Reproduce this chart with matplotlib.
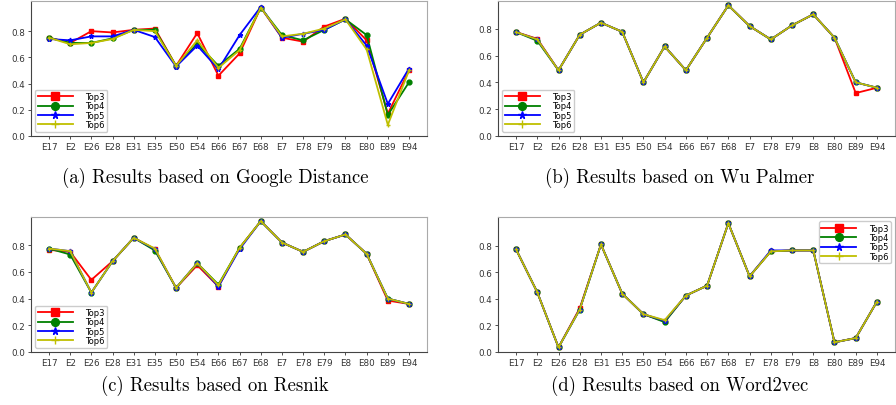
# Four panels: Top3..Top6 results per event, one panel per similarity measure
import numpy as np
import matplotlib
matplotlib.use('Agg')
import matplotlib.pyplot as plt

events = ['E17', 'E2', 'E26', 'E28', 'E31', 'E35', 'E50', 'E54', 'E66',
          'E67', 'E68', 'E7', 'E78', 'E79', 'E8', 'E80', 'E89', 'E94']
series_names = ['Top3', 'Top4', 'Top5', 'Top6']

# (a) Google Distance
google_top3 = [0.75, 0.71, 0.80, 0.79, 0.81, 0.82, 0.535, 0.785, 0.46, 0.63, 0.98, 0.75, 0.72, 0.835, 0.895, 0.73, 0.17, 0.50]
google_top4 = [0.75, 0.71, 0.71, 0.745, 0.81, 0.81, 0.535, 0.705, 0.535, 0.665, 0.98, 0.77, 0.73, 0.81, 0.89, 0.77, 0.16, 0.41]
google_top5 = [0.74, 0.73, 0.76, 0.76, 0.81, 0.755, 0.53, 0.69, 0.51, 0.77, 0.985, 0.75, 0.78, 0.81, 0.89, 0.69, 0.245, 0.515]
google_top6 = [0.75, 0.70, 0.71, 0.74, 0.81, 0.80, 0.535, 0.73, 0.52, 0.655, 0.98, 0.76, 0.78, 0.82, 0.89, 0.66, 0.085, 0.50]

# (b) Wu Palmer
wu_top3 = [0.775, 0.725, 0.49, 0.755, 0.845, 0.777, 0.40, 0.668, 0.49, 0.733, 0.974, 0.82, 0.72, 0.825, 0.907, 0.733, 0.32, 0.36]
wu_top4 = [0.775, 0.71, 0.49, 0.755, 0.845, 0.777, 0.40, 0.668, 0.49, 0.733, 0.974, 0.82, 0.72, 0.825, 0.907, 0.733, 0.40, 0.36]
wu_top5 = [0.775, 0.72, 0.49, 0.755, 0.845, 0.777, 0.40, 0.668, 0.49, 0.733, 0.974, 0.82, 0.72, 0.825, 0.907, 0.733, 0.40, 0.36]
wu_top6 = [0.775, 0.72, 0.49, 0.755, 0.845, 0.777, 0.40, 0.668, 0.49, 0.733, 0.974, 0.82, 0.72, 0.825, 0.907, 0.733, 0.40, 0.36]

# (c) Resnik
resnik_top3 = [0.765, 0.75, 0.54, 0.68, 0.855, 0.77, 0.48, 0.65, 0.49, 0.78, 0.98, 0.82, 0.75, 0.83, 0.88, 0.735, 0.385, 0.36]
resnik_top4 = [0.775, 0.73, 0.445, 0.68, 0.855, 0.76, 0.48, 0.665, 0.505, 0.78, 0.98, 0.82, 0.75, 0.83, 0.88, 0.735, 0.40, 0.36]
resnik_top5 = [0.775, 0.755, 0.445, 0.68, 0.855, 0.77, 0.48, 0.665, 0.49, 0.77, 0.98, 0.82, 0.75, 0.83, 0.88, 0.735, 0.40, 0.36]
resnik_top6 = [0.775, 0.755, 0.445, 0.68, 0.855, 0.775, 0.48, 0.665, 0.50, 0.78, 0.98, 0.82, 0.75, 0.83, 0.88, 0.735, 0.40, 0.36]

# (d) Word2vec
w2v_top3 = [0.773, 0.45, 0.035, 0.33, 0.81, 0.44, 0.285, 0.23, 0.425, 0.50, 0.97, 0.57, 0.758, 0.765, 0.765, 0.073, 0.105, 0.38]
w2v_top4 = [0.773, 0.45, 0.035, 0.32, 0.81, 0.44, 0.285, 0.225, 0.425, 0.50, 0.97, 0.57, 0.758, 0.765, 0.765, 0.073, 0.105, 0.38]
w2v_top5 = [0.773, 0.45, 0.035, 0.32, 0.81, 0.44, 0.285, 0.235, 0.425, 0.50, 0.97, 0.57, 0.765, 0.765, 0.765, 0.073, 0.105, 0.38]
w2v_top6 = [0.773, 0.45, 0.035, 0.32, 0.81, 0.44, 0.285, 0.24, 0.425, 0.50, 0.97, 0.57, 0.758, 0.765, 0.765, 0.073, 0.105, 0.38]

captions = ['(a) Results based on Google Distance', '(b) Results based on Wu Palmer',
            '(c) Results based on Resnik', '(d) Results based on Word2vec']
panels = [[google_top3, google_top4, google_top5, google_top6],
          [wu_top3, wu_top4, wu_top5, wu_top6],
          [resnik_top3, resnik_top4, resnik_top5, resnik_top6],
          [w2v_top3, w2v_top4, w2v_top5, w2v_top6]]
legend_locs = ['lower left', 'lower left', 'lower left', 'upper right']

colors = ['red', 'green', 'blue', 'y']
markers = ['s', 'o', '*', '+']

fig = plt.figure(figsize=(8.96, 4.06), dpi=100)
W, H = 896.0, 406.0
# axes boxes in pixels: left, top, right, bottom
boxes = [(31, 2, 427, 137), (498, 2, 895, 137),
         (31, 218, 427, 353), (498, 218, 895, 353)]
caption_pos = [(215, 178), (680, 178), (215, 386), (680, 386)]

x = np.arange(len(events))
for k in range(4):
    l, t, r, b = boxes[k]
    ax = fig.add_axes([l / W, 1 - b / H, (r - l) / W, (b - t) / H])
    for s in range(4):
        ax.plot(x, panels[k][s], color=colors[s], marker=markers[s],
                markersize=3.5, linewidth=1.3, label=series_names[s])
    ax.set_ylim(bottom=0)
    ax.set_xticks(x)
    ax.set_xticklabels(events, fontsize=6.3)
    ax.set_yticks([0.0, 0.2, 0.4, 0.6, 0.8])
    ax.set_yticklabels(['0.0', '0.2', '0.4', '0.6', '0.8'], fontsize=6.3)
    ax.tick_params(length=2.5, width=0.6, pad=1.5, colors='#333333')
    for side in ['left', 'bottom']:
        ax.spines[side].set_color('#444444')
    for side in ['top', 'right']:
        ax.spines[side].set_color('#aaaaaa')
    ax.legend(loc=legend_locs[k], fontsize=6, markerscale=1.6,
              handlelength=4.2, labelspacing=0.05, borderpad=0.3,
              handletextpad=1.5, framealpha=1)
    cx, cy = caption_pos[k]
    fig.text(cx / W, 1 - cy / H, captions[k], ha='center', va='center',
             fontsize=13.5, family='cmr10')

fig.savefig('out.png', dpi=100)
